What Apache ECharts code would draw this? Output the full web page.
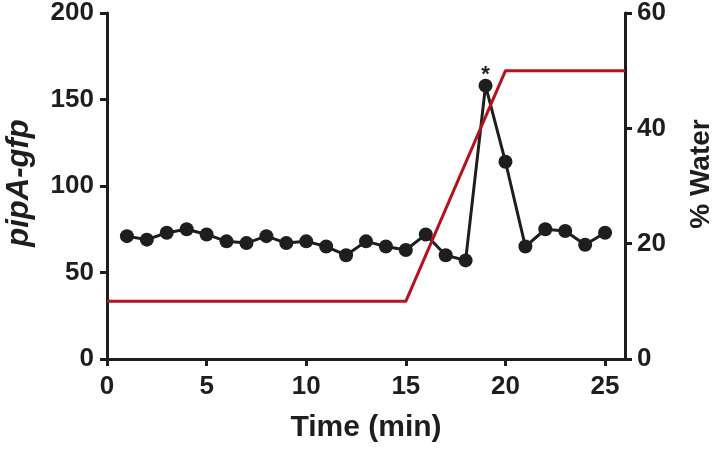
<!DOCTYPE html>
<html>
<head>
<meta charset="utf-8">
<script src="https://cdn.jsdelivr.net/npm/echarts@6/dist/echarts.min.js"></script>
<style>
  html, body { margin: 0; padding: 0; background: #fff; }
  #chart { width: 717px; height: 449px; }
</style>
</head>
<body>
<div id="chart"></div>
<script>
// pipA-gfp per minute
const minutes = [1, 2, 3, 4, 5, 6, 7, 8, 9, 10, 11, 12, 13, 14, 15, 16, 17, 18, 19, 20, 21, 22, 23, 24, 25];
const gfp = [71, 69, 73, 75, 72, 68, 67, 71, 67, 68, 65, 60, 68, 65, 63, 72, 60, 57, 158, 114, 65, 75, 74, 66, 73];
// % water gradient
const waterTime = [0, 15, 20, 26];
const waterPct = [10, 10, 50, 50];
const xTicks = [0, 5, 10, 15, 20, 25];
const starIndex = 18;

const ink = '#1e1e1e';
const red = '#b5121b';

const chart = echarts.init(document.getElementById('chart'));

const gfpData = minutes.map((m, i) => {
  const item = { value: [m, gfp[i]] };
  if (i === starIndex) {
    item.label = {
      show: true, formatter: '*', position: 'top', distance: -7,
      color: ink, fontSize: 22, fontWeight: 'bold', fontFamily: 'Liberation Sans'
    };
  }
  return item;
});

const axisCommon = {
  axisLine: { show: true, lineStyle: { color: ink, width: 3 } },
  axisTick: { show: true, inside: false, length: 7, lineStyle: { color: ink, width: 3 } },
  axisLabel: { color: ink, fontSize: 26, fontWeight: 'bold', fontFamily: 'Liberation Sans' },
  splitLine: { show: false }
};

chart.setOption({
  animation: false,
  grid: { left: 107, right: 92, top: 13, bottom: 90, outerBoundsMode: 'none', containLabel: false },
  xAxis: {
    type: 'value', min: 0, max: 26,
    name: 'Time (min)', nameLocation: 'middle', nameGap: 54,
    nameTextStyle: { color: ink, fontSize: 30, fontWeight: 'bold', fontFamily: 'Liberation Sans' },
    axisLine: axisCommon.axisLine,
    axisTick: Object.assign({}, axisCommon.axisTick, { customValues: xTicks }),
    axisLabel: Object.assign({}, axisCommon.axisLabel, { customValues: xTicks, margin: 15 }),
    splitLine: { show: false }
  },
  yAxis: [{
    type: 'value', min: 0, max: 200, interval: 50, position: 'left',
    name: 'pipA-gfp', nameLocation: 'middle', nameGap: 72, nameRotate: 90,
    nameTextStyle: { color: ink, fontSize: 31, fontWeight: 'bold', fontStyle: 'italic', fontFamily: 'Liberation Sans', padding: [0, 0, 0, 6] },
    axisLine: axisCommon.axisLine,
    axisTick: axisCommon.axisTick,
    axisLabel: Object.assign({}, axisCommon.axisLabel, { margin: 13 }),
    splitLine: { show: false }
  }, {
    type: 'value', min: 0, max: 60, interval: 20, position: 'right',
    name: '% Water', nameLocation: 'middle', nameGap: 62, nameRotate: 90,
    nameTextStyle: { color: ink, fontSize: 28, fontWeight: 'bold', fontFamily: 'Liberation Sans', padding: [0, 0, 0, 24] },
    axisLine: axisCommon.axisLine,
    axisTick: axisCommon.axisTick,
    axisLabel: Object.assign({}, axisCommon.axisLabel, { margin: 12 }),
    splitLine: { show: false }
  }],
  series: [{
    type: 'line',
    yAxisIndex: 0,
    data: gfpData,
    symbol: 'circle',
    symbolSize: 14,
    itemStyle: { color: ink },
    lineStyle: { color: ink, width: 3 },
    z: 2
  }, {
    type: 'line',
    yAxisIndex: 1,
    data: waterTime.map((t, i) => [t, waterPct[i]]),
    symbol: 'none',
    lineStyle: { color: red, width: 3 },
    z: 3
  }]
});
</script>
</body>
</html>
